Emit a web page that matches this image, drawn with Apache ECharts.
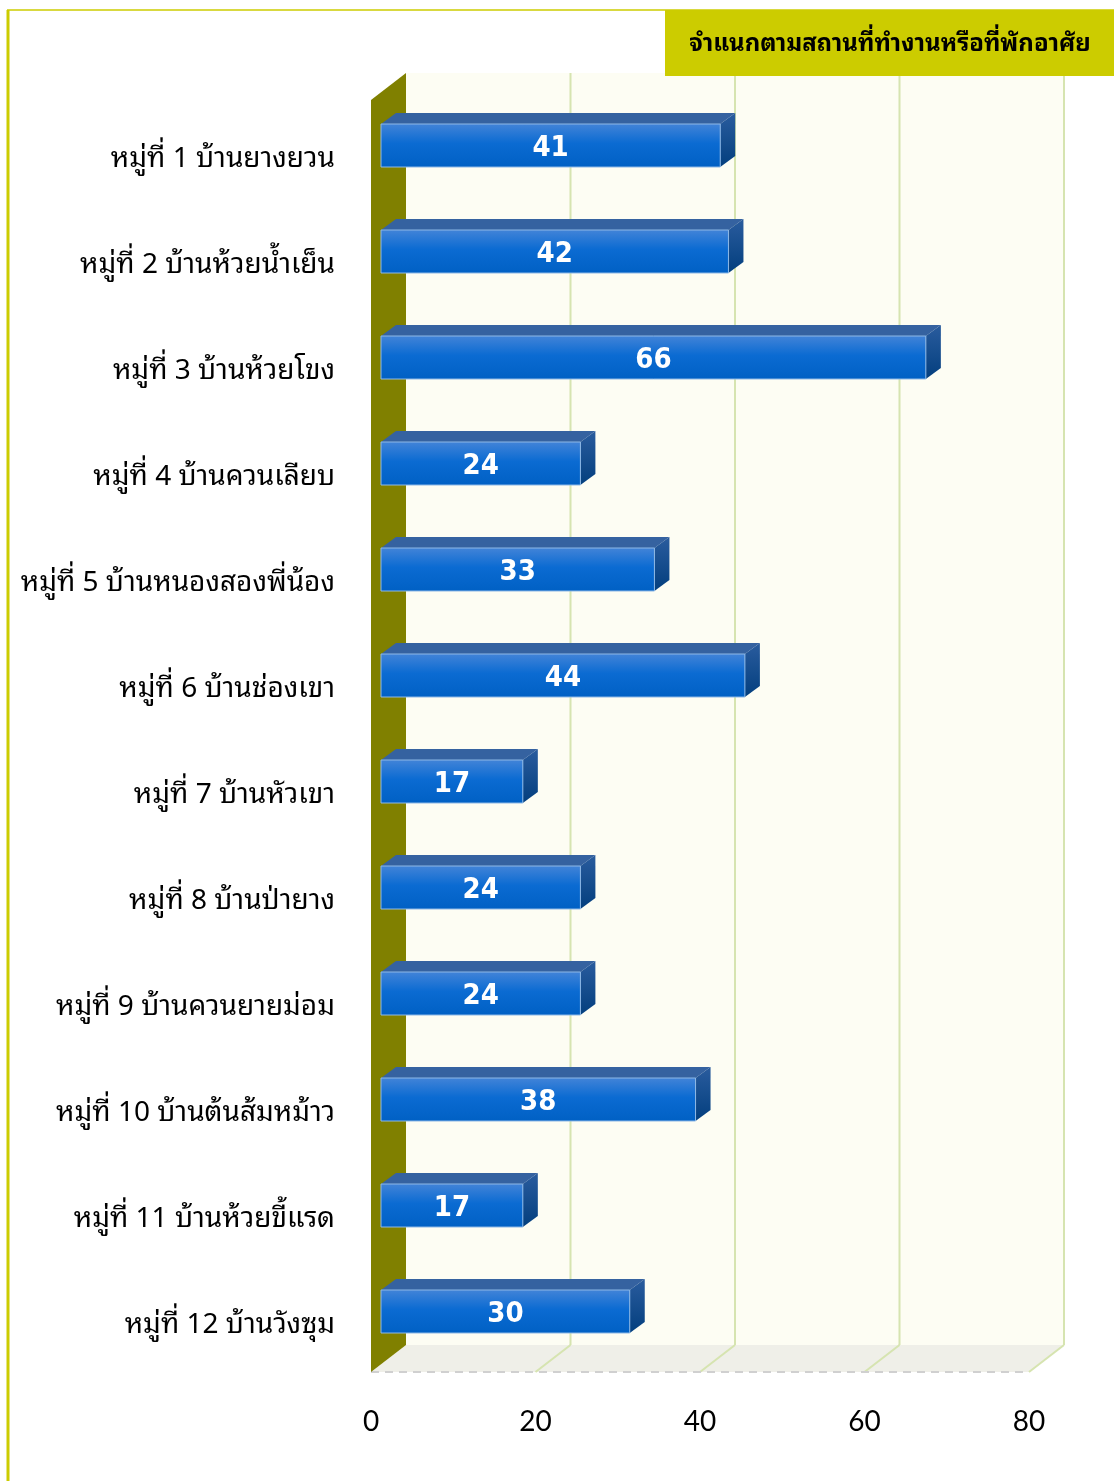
<!DOCTYPE html>
<html lang="th">

<head>
    <meta charset="UTF-8">
    <title>จำแนกตามสถานที่ทำงานหรือที่พักอาศัย</title>
    <style>
        body {
            margin: 0;
            background: #fff;
        }

        #main {
            width: 1114px;
            height: 1481px;
        }
    </style>
    <script src="https://cdn.jsdelivr.net/npm/echarts@6/dist/echarts.min.js"></script>
</head>

<body>
    <div id="main"></div>

    <script type="text/javascript">
        // หมวดหมู่ (หมู่บ้าน)
        var categories = [
            'หมู่ที่ 1 บ้านยางยวน',
            'หมู่ที่ 2 บ้านห้วยน้ำเย็น',
            'หมู่ที่ 3 บ้านห้วยโขง',
            'หมู่ที่ 4 บ้านควนเลียบ',
            'หมู่ที่ 5 บ้านหนองสองพี่น้อง',
            'หมู่ที่ 6 บ้านช่องเขา',
            'หมู่ที่ 7 บ้านหัวเขา',
            'หมู่ที่ 8 บ้านป่ายาง',
            'หมู่ที่ 9 บ้านควนยายม่อม',
            'หมู่ที่ 10 บ้านต้นส้มหม้าว',
            'หมู่ที่ 11 บ้านห้วยขี้แรด',
            'หมู่ที่ 12 บ้านวังซุม'
        ];
        // จำนวน
        var values = [41, 42, 66, 24, 33, 44, 17, 24, 24, 38, 17, 30];
        // ค่าบนแกน x
        var xTicks = [0, 20, 40, 60, 80];

        var titleText = 'จำแนกตามสถานที่ทำงานหรือที่พักอาศัย';
        var thaiFont = '"Noto Sans Thai Looped", "Noto Sans Thai", "Noto Sans", "DejaVu Sans", sans-serif';

        // ความลึกของกล่อง 3 มิติ
        var DX = 35, DY = -27;

        // ผนัง / พื้น
        function renderWalls(params, api) {
            var cs = params.coordSys;
            var x0 = cs.x, y0 = cs.y, w = cs.width, h = cs.height;
            var yb = y0 + h;
            var children = [];
            // ผนังด้านหลัง
            children.push({
                type: 'rect',
                shape: { x: x0 + DX, y: y0 + DY, width: w, height: h },
                style: { fill: '#fdfdf3' }
            });
            // พื้น
            children.push({
                type: 'polygon',
                shape: { points: [[x0, yb], [x0 + w, yb], [x0 + w + DX, yb + DY], [x0 + DX, yb + DY]] },
                style: { fill: '#efefe8' }
            });
            // เส้นกริด
            xTicks.forEach(function (t) {
                if (t === xTicks[0]) return;
                var cx = api.coord([t, 0])[0];
                children.push({
                    type: 'line',
                    shape: { x1: cx + DX, y1: y0 + DY, x2: cx + DX, y2: yb + DY },
                    style: { stroke: '#d6e4b0', lineWidth: 2 }
                });
                children.push({
                    type: 'line',
                    shape: { x1: cx, y1: yb, x2: cx + DX, y2: yb + DY },
                    style: { stroke: '#d6e4b0', lineWidth: 2 }
                });
            });
            // เส้นประด้านหน้า
            children.push({
                type: 'line',
                shape: { x1: x0, y1: yb, x2: x0 + w, y2: yb },
                style: { stroke: '#d0d0d0', lineWidth: 2, lineDash: [8, 6] }
            });
            // ผนังด้านซ้าย
            children.push({
                type: 'polygon',
                shape: { points: [[x0, y0], [x0 + DX, y0 + DY], [x0 + DX, yb + DY], [x0, yb]] },
                style: { fill: '#808000' }
            });
            return { type: 'group', children: children };
        }

        // แท่ง 3 มิติ
        function renderBar(params, api) {
            var v = api.value(0);
            var start = api.coord([0, api.value(1)]);
            var end = api.coord([v, api.value(1)]);
            var bh = 43, ddx = 15, ddy = -11;
            var xs = start[0] + 10;
            var xe = end[0] + 12;
            var yc = start[1] - 7.5;
            var yt = yc - bh / 2, yb = yc + bh / 2;
            return {
                type: 'group',
                children: [{
                    type: 'polygon',
                    shape: { points: [[xs, yt], [xs + ddx, yt + ddy], [xe + ddx, yt + ddy], [xe, yt]] },
                    style: { fill: '#3562a0' }
                }, {
                    type: 'polygon',
                    shape: { points: [[xe, yt], [xe + ddx, yt + ddy], [xe + ddx, yb + ddy], [xe, yb]] },
                    style: {
                        fill: new echarts.graphic.LinearGradient(0, 0, 0, 1, [
                            { offset: 0, color: '#2a5c9e' },
                            { offset: 1, color: '#033f7e' }
                        ])
                    }
                }, {
                    type: 'rect',
                    shape: { x: xs, y: yt, width: xe - xs, height: bh },
                    style: {
                        fill: new echarts.graphic.LinearGradient(0, 0, 0, 1, [
                            { offset: 0, color: '#4384d8' },
                            { offset: 0.45, color: '#0b6bd2' },
                            { offset: 1, color: '#0060c4' }
                        ]),
                        stroke: '#8db8e6',
                        lineWidth: 1
                    }
                }, {
                    type: 'text',
                    style: {
                        x: (xs + xe) / 2,
                        y: yc + 3,
                        text: String(v),
                        fill: '#fff',
                        font: 'bold 29px "DejaVu Sans Condensed", "Liberation Sans Narrow", "Roboto", sans-serif',
                        align: 'center',
                        verticalAlign: 'middle'
                    }
                }]
            };
        }

        var barData = values.map(function (v, i) { return [v, i]; });

        var option = {
            backgroundColor: '#fff',
            animation: false,
            grid: {
                left: 371,
                right: 85,
                top: 100,
                bottom: 109
            },
            xAxis: {
                type: 'value',
                min: 0,
                max: 80,
                interval: 20,
                axisLine: { show: false },
                axisTick: { show: false },
                splitLine: { show: false },
                axisLabel: {
                    margin: 36,
                    color: '#000',
                    fontSize: 28,
                    fontFamily: 'Lato, "DejaVu Sans", sans-serif',
                    fontWeight: 'normal'
                }
            },
            yAxis: {
                type: 'category',
                data: categories,
                inverse: true,
                axisLine: { show: false },
                axisTick: { show: false },
                splitLine: { show: false },
                axisLabel: {
                    margin: 36,
                    formatter: function (v) { return '{a|' + v + '}'; },
                    rich: {
                        a: {
                            color: '#000',
                            fontSize: 28,
                            fontFamily: thaiFont,
                            padding: [12, 0, 0, 0]
                        }
                    }
                }
            },
            graphic: [{
                type: 'line',
                shape: { x1: 8, y1: 10, x2: 8, y2: 1481 },
                style: { stroke: '#cccc00', lineWidth: 3 },
                z: 10
            }, {
                type: 'line',
                shape: { x1: 7, y1: 10, x2: 1114, y2: 10 },
                style: { stroke: '#cccc00', lineWidth: 1.5 },
                z: 10
            }, {
                type: 'rect',
                shape: { x: 665, y: 10, width: 449, height: 66 },
                style: { fill: '#cccc00' },
                z: 11
            }, {
                type: 'text',
                x: 890,
                y: 44,
                style: {
                    text: titleText,
                    fill: '#000',
                    font: 'bold 24px ' + thaiFont,
                    align: 'center',
                    verticalAlign: 'middle'
                },
                z: 12
            }],
            series: [{
                type: 'custom',
                name: 'walls',
                renderItem: renderWalls,
                data: [[0, 0]],
                silent: true,
                z: 1
            }, {
                type: 'custom',
                name: 'จำนวน',
                renderItem: renderBar,
                encode: { x: 0, y: 1 },
                data: barData,
                z: 2
            }]
        };

        var myChart = echarts.init(document.getElementById('main'));
        myChart.setOption(option);
    </script>
</body>

</html>
